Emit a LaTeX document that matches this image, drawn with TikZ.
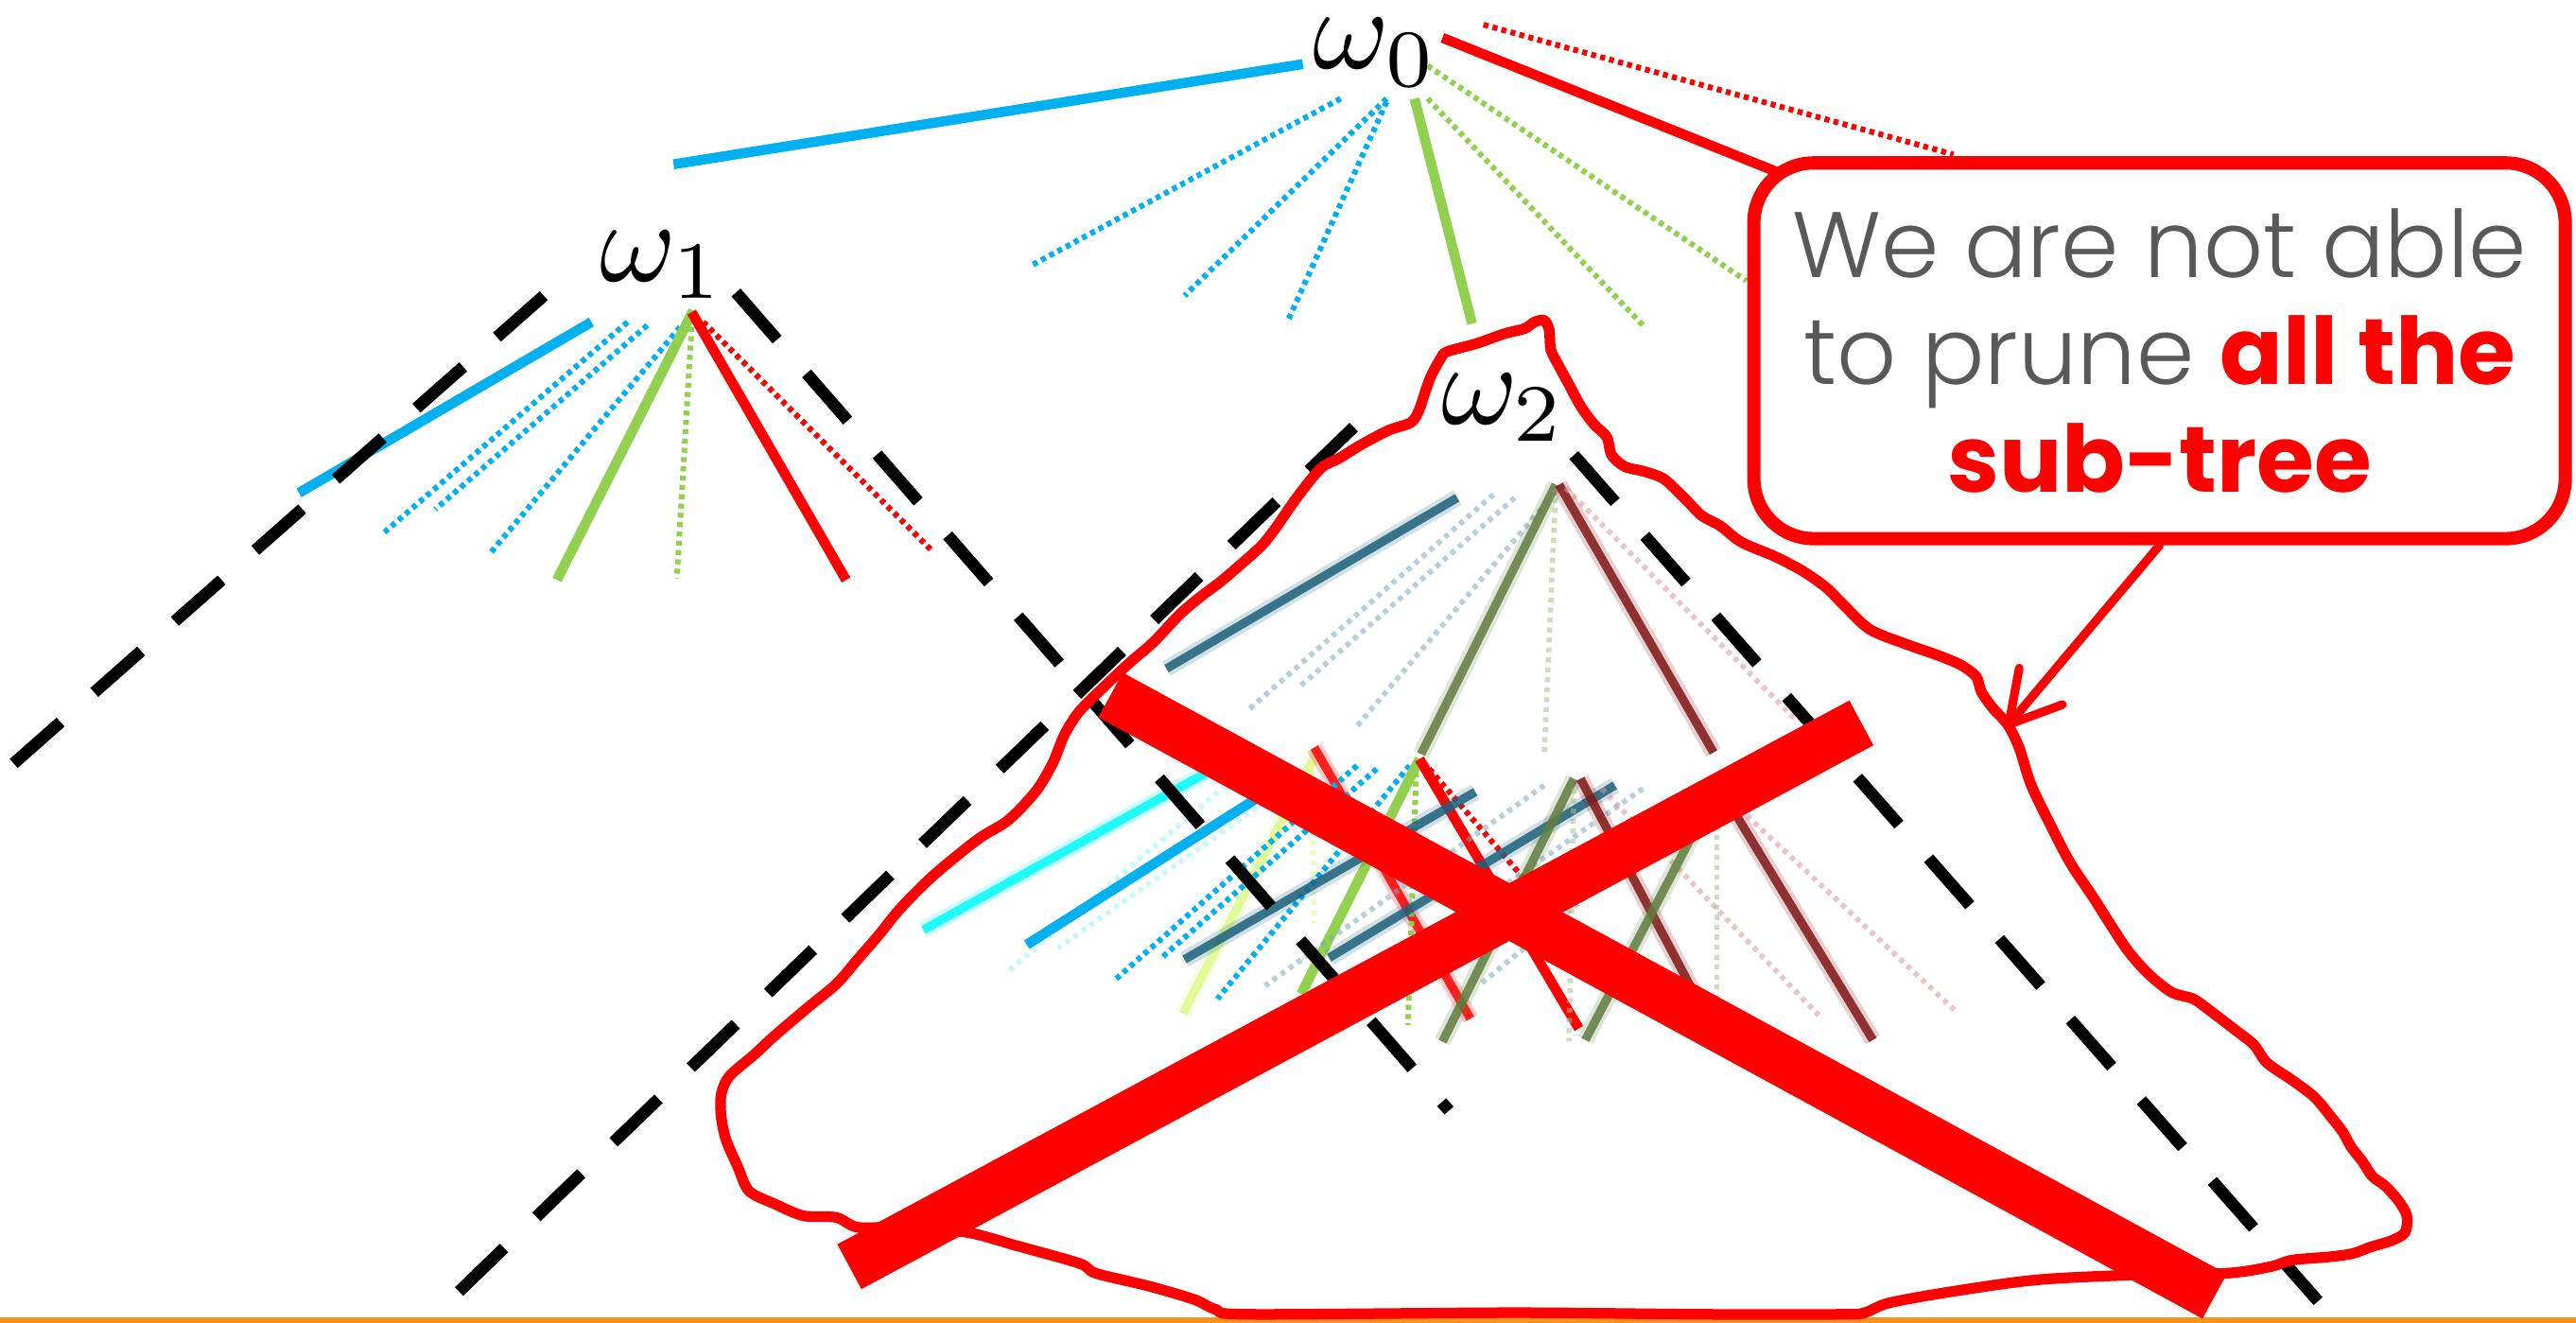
\documentclass[tikz,border=0pt]{standalone}
\usepackage{fontspec}
\newfontfamily\notefont{Poppins}[UprightFont=* Light, BoldFont=* Bold]
\usetikzlibrary{arrows.meta}
\definecolor{pblue}{RGB}{0,176,240}
\definecolor{pgreen}{RGB}{146,208,80}
\definecolor{pred}{RGB}{255,0,0}
\definecolor{pgray}{RGB}{89,89,89}
\definecolor{porange}{RGB}{247,148,29}
\definecolor{dteal}{RGB}{28,98,125}
\definecolor{dolive}{RGB}{96,125,62}
\definecolor{dred}{RGB}{128,22,22}
\definecolor{fteal}{RGB}{120,170,190}
\definecolor{fpink}{RGB}{215,150,150}
\definecolor{fgreen}{RGB}{165,190,140}
\definecolor{pcyan}{RGB}{0,250,250}
\definecolor{lcyan}{RGB}{160,240,250}
\definecolor{pyellow}{RGB}{222,250,140}

\begin{document}
\begin{tikzpicture}[x=0.01737cm, y=-0.01737cm,
    edge/.style={line width=3pt},
    dotline/.style={line width=1.7pt, dash pattern=on 1.5pt off 1.3pt},
    cut/.style={black, line width=3.6pt, dash pattern=on 18.8pt off 13.5pt},
    fuzzy/.style={draw=#1, line width=2.6pt, opacity=0.85, preaction={draw=#1, line width=5pt, opacity=0.2}},
    faint/.style={draw=#1, line width=1.6pt, dash pattern=on 1.5pt off 1.5pt, opacity=0.55},
    omega/.style={anchor=base west, inner sep=0pt, scale=3.5},
    blob/.style={pred, line width=3.2pt, line join=round},
    cross/.style={pred, line width=15.3pt},
    note/.style={draw=pred, line width=4pt, rounded corners=18pt, fill=white,
      minimum width=244pt, minimum height=113pt, align=center, text=pgray,
      font=\notefont\fontsize{28}{32.4}\selectfont},
    pointer/.style={pred, line width=2.6pt, line cap=round, -{Straight Barb[length=15pt, width=17pt, round]}}]
  \useasboundingbox (0,0) rectangle (1568,805);

  % 1. 底部橙线
  \fill[porange] (0,802) rectangle (1568,805);

  % 2. 根节点 w0 的分支
  \draw[edge, pblue] (410,100) -- (793,39);
  \foreach \ax/\ay/\bx/\by in {816/60/627/162, 844/60/721/180, 844/62/784/195}
    \draw[dotline, pblue] (\ax,\ay) -- (\bx,\by);
  \draw[edge, pgreen] (861,60) -- (896,197);
  \draw[dotline, pgreen] (869,40) -- (1063,171);
  \draw[dotline, pgreen] (869,60) -- (1000,198);
  \draw[edge, pred] (878,23) -- (1085,106);
  \draw[dotline, pred] (903,15) -- (1189,94);

  % 3. 节点 w1 的分支
  \draw[edge, pblue] (360,196) -- (182,300);
  \foreach \ax/\ay/\bx/\by in {382/196/234/324, 394/198/265/310, 414/199/299/336}
    \draw[dotline, pblue] (\ax,\ay) -- (\bx,\by);
  \draw[edge, pgreen] (422,189) -- (339,353);
  \draw[dotline, pgreen] (421,199) -- (412,352);
  \draw[edge, pred] (421,190) -- (515,353);
  \draw[dotline, pred] (428,196) -- (568,336);

  % 4. 节点 w2 的子树（模糊）
  \draw[fuzzy=dteal] (887,303) -- (710,407);
  \foreach \ax/\ay/\bx/\by in {909/301/760/432, 922/303/791/418, 942/305/826/442}
    \draw[faint=fteal] (\ax,\ay) -- (\bx,\by);
  \draw[fuzzy=dolive] (947,295) -- (865,459);
  \draw[faint=fgreen] (947,297) -- (940,458);
  \draw[fuzzy=dred] (949,295) -- (1043,458);
  \draw[faint=fpink] (953,297) -- (1094,439);

  % 5. 第三层
  \draw[fuzzy=pcyan] (760,456) -- (562,566);
  \draw[faint=lcyan] (746,478) -- (614,591);
  \draw[faint=lcyan] (770,488) -- (644,577);
  \draw[edge, pblue] (790,470) -- (625,575);
  \draw[fuzzy=pyellow] (800,461) -- (720,617);
  \draw[faint=pyellow] (798,457) -- (800,562);
  \draw[fuzzy=pred] (800,455) -- (895,620);
  \foreach \ax/\ay/\bx/\by in {826/466/678/597, 838/468/707/583, 858/466/741/608}
    \draw[dotline, pblue] (\ax,\ay) -- (\bx,\by);
  \draw[edge, pgreen] (864,462) -- (792,605);
  \draw[dotline, pgreen] (862,470) -- (857,624);
  \draw[edge, pred] (864,462) -- (961,626);
  \draw[dotline, pred] (870,468) -- (945,555);
  \foreach \ax/\ay/\bx/\by in {940/478/770/600, 1000/480/840/592, 1040/484/900/600}
    \draw[faint=fteal] (\ax,\ay) -- (\bx,\by);
  \draw[fuzzy=dteal] (898,482) -- (721,584);
  \draw[fuzzy=dteal] (983,478) -- (809,583);
  \draw[fuzzy=dolive] (958,474) -- (878,634);
  \draw[faint=fgreen] (958,480) -- (955,634);
  \draw[fuzzy=dred] (962,474) -- (1050,640);
  \draw[faint=fpink] (975,480) -- (1107,618);
  \draw[fuzzy=dolive] (1045,480) -- (965,633);
  \draw[faint=fgreen] (1045,490) -- (1045,620);
  \draw[fuzzy=dred] (1047,480) -- (1140,633);
  \draw[faint=fpink] (1050,484) -- (1191,616);

  % 6. 黑色虚线
  \draw[cut] (331,180) -- (8,465);
  \draw[cut] (448,178) -- (882,676);
  \draw[cut] (824,260) -- (263,802);
  \draw[cut] (958,277) -- (1411,792);

  % 7. 标号
  \node[omega] (w0) at (798,42) {$\omega_0$};
  \node[omega] (w1) at (364,171) {$\omega_1$};
  \node[omega] (w2) at (876,258) {$\omega_2$};

  % 8. 手绘圈
  \draw[blob] plot[smooth cycle, tension=0.5] coordinates {
    (934,196) (940,195) (943,201) (944,213) (949,223) (955,234) (962,247) (970,258)
    (978,266) (981,277) (989,284) (1001,287) (1012,291) (1020,298) (1028,306)
    (1036,314) (1047,320) (1060,330) (1081,339) (1098,348) (1112,358) (1122,368)
    (1138,383) (1160,392) (1180,399) (1194,405) (1203,412) (1206,421) (1213,431)
    (1222,441) (1229,455) (1236,477) (1247,500) (1260,525) (1274,546) (1294,577)
    (1308,593) (1322,604) (1335,608) (1345,615) (1362,628) (1372,636) (1380,647)
    (1396,658) (1409,668) (1419,680) (1426,689) (1431,698) (1438,707) (1444,716)
    (1452,722) (1460,731) (1465,740) (1464,750) (1456,755) (1443,759) (1432,763)
    (1418,765) (1395,767) (1382,771) (1355,775) (1300,776) (1240,779) (1189,786)
    (1150,793) (1135,799) (1121,800) (1036,800) (921,799) (760,800) (740,797)
    (727,791) (700,783) (667,775) (657,769) (618,758) (588,750) (548,747) (522,747)
    (509,741) (489,740) (472,733) (456,725) (449,710) (442,694) (439,680) (439,666)
    (444,655) (459,642) (472,630) (492,613) (509,599) (522,584) (535,569) (548,553)
    (568,533) (595,511) (614,499) (631,481) (641,464) (648,447) (657,433) (672,418)
    (688,403) (702,391) (718,374) (731,363) (743,354) (757,342) (768,332) (776,322)
    (790,302) (804,285) (815,279) (828,271) (845,262) (859,257) (864,249) (867,240)
    (871,229) (877,218) (881,214) (899,209) (916,203) (928,200)};

  % 9. 大叉
  \coordinate (xa) at (676,423);
  \coordinate (xb) at (1348,789);
  \coordinate (xc) at (1133,440);
  \coordinate (xd) at (517,771);
  \draw[cross] (xa) -- (xb);
  \draw[cross] (xc) -- (xd);

  % 10. 说明框与指针
  \node[note] (note) at (1314.5,213.5)
    {We are not able\\to prune {\bfseries\color{pred}all the}\\{\bfseries\color{pred}sub-tree}};
  \coordinate (tip) at (1221,443);
  \draw[pointer] (note.south) -- (tip);
\end{tikzpicture}
\end{document}
